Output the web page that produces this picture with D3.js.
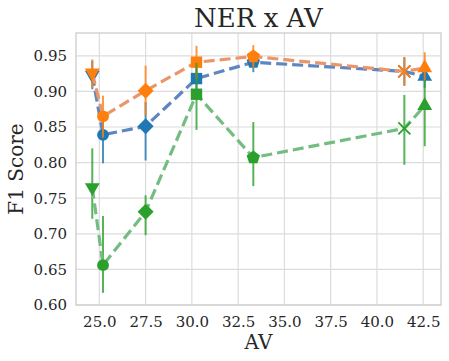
<!DOCTYPE html>
<html>
<head>
<meta charset="utf-8">
<script src="https://cdn.jsdelivr.net/npm/d3@7"></script>
<style>
  body { margin:0; background:#fff; }
  text { font-family: "DejaVu Serif", serif; fill:#262626; }
</style>
</head>
<body>
<div id="chart"></div>
<script>
// AV values (x) and marker for each point
const avValues = [24.62, 25.2, 27.5, 30.25, 33.32, 41.48, 42.58];
const markers  = ["v", "o", "D", "s", "p", "x", "^"];

// F1 per series, with error bar low / high
const blueF1  = [0.923, 0.839, 0.851, 0.918, 0.941, 0.928, 0.921];
const blueLo  = [0.903, 0.799, 0.803, 0.895, 0.927, 0.908, 0.905];
const blueHi  = [0.943, 0.870, 0.885, 0.940, 0.955, 0.948, 0.935];

const orangeF1 = [0.926, 0.865, 0.901, 0.941, 0.949, 0.928, 0.933];
const orangeLo = [0.905, 0.835, 0.866, 0.918, 0.933, 0.908, 0.913];
const orangeHi = [0.945, 0.894, 0.936, 0.964, 0.965, 0.948, 0.955];

const greenF1 = [0.765, 0.656, 0.731, 0.896, 0.807, 0.848, 0.880];
const greenLo = [0.721, 0.617, 0.698, 0.846, 0.767, 0.797, 0.823];
const greenHi = [0.820, 0.725, 0.754, 0.940, 0.857, 0.895, 0.916];

const yTicks = [0.60, 0.65, 0.70, 0.75, 0.80, 0.85, 0.90, 0.95];
const xTicks = [25.0, 27.5, 30.0, 32.5, 35.0, 37.5, 40.0, 42.5];

const series = [
  {color:"#1f77b4", line:"#5f86c0", f1:blueF1,   lo:blueLo,   hi:blueHi},
  {color:"#ff7f0e", line:"#eb9668", f1:orangeF1, lo:orangeLo, hi:orangeHi},
  {color:"#2ca02c", line:"#74bd82", f1:greenF1,  lo:greenLo,  hi:greenHi}
];

const W = 449, H = 361;
const m = {left:76, right:8, top:33, bottom:56};

const svg = d3.select("#chart").append("svg")
  .attr("width", W).attr("height", H);

const x = d3.scaleLinear().domain([23.74, 43.46]).range([m.left, W - m.right]);
const y = d3.scaleLinear().domain([0.60, 0.982]).range([H - m.bottom, m.top]);

// grid
svg.append("g").selectAll("line").data(xTicks).join("line")
  .attr("x1", d => x(d)).attr("x2", d => x(d))
  .attr("y1", m.top).attr("y2", H - m.bottom)
  .attr("stroke", "#dcdcdc").attr("stroke-width", 1.2);
svg.append("g").selectAll("line").data(yTicks).join("line")
  .attr("x1", m.left).attr("x2", W - m.right)
  .attr("y1", d => y(d)).attr("y2", d => y(d))
  .attr("stroke", "#dcdcdc").attr("stroke-width", 1.2);

// frame
svg.append("rect")
  .attr("x", m.left).attr("y", m.top)
  .attr("width", W - m.right - m.left).attr("height", H - m.bottom - m.top)
  .attr("fill", "none").attr("stroke", "#cccccc").attr("stroke-width", 1.3);

// axes
const xAxis = svg.append("g")
  .attr("transform", `translate(0,${H - m.bottom})`)
  .call(d3.axisBottom(x).tickValues(xTicks).tickFormat(d3.format(".1f")).tickSize(0).tickPadding(11));
const yAxis = svg.append("g")
  .attr("transform", `translate(${m.left},0)`)
  .call(d3.axisLeft(y).tickValues(yTicks).tickFormat(d3.format(".2f")).tickSize(0).tickPadding(9));
[xAxis, yAxis].forEach(a => {
  a.select(".domain").remove();
  a.selectAll("text").style("font-family", "DejaVu Serif").style("font-size", "15px").attr("fill", "#262626");
});

// marker shapes
function markerPath(k) {
  if (k === "p") {
    // pentagon
    const r = 7;
    return d3.line()(d3.range(5).map(i => {
      const a = -Math.PI / 2 + i * 2 * Math.PI / 5;
      return [r * Math.cos(a), r * Math.sin(a)];
    })) + "Z";
  }
  if (k === "D") {
    const r = 8;
    return `M0,${-r}L${r},0L0,${r}L${-r},0Z`;
  }
  const types = {"v": d3.symbolTriangle, "^": d3.symbolTriangle, "o": d3.symbolCircle, "s": d3.symbolSquare};
  const sizes = {"v": 95, "^": 95, "o": 110, "s": 130};
  return d3.symbol().type(types[k]).size(sizes[k])();
}

series.forEach(s => {
  const g = svg.append("g");
  // error bars
  g.selectAll("line.err").data(avValues).join("line")
    .attr("x1", d => x(d)).attr("x2", d => x(d))
    .attr("y1", (d, i) => y(s.lo[i])).attr("y2", (d, i) => y(s.hi[i]))
    .attr("stroke", s.color).attr("stroke-opacity", 0.8).attr("stroke-width", 2);
  // dashed line
  g.append("path")
    .datum(avValues)
    .attr("d", d3.line().x(d => x(d)).y((d, i) => y(s.f1[i])))
    .attr("fill", "none").attr("stroke", s.line).attr("stroke-width", 3.2)
    .attr("stroke-dasharray", "11,5");
  // markers
  avValues.forEach((d, i) => {
    const k = markers[i];
    const t = `translate(${x(d)},${y(s.f1[i])})` + (k === "v" ? " rotate(180)" : "");
    if (k === "x") {
      const r = 6;
      g.append("path")
        .attr("transform", t)
        .attr("d", `M${-r},${-r}L${r},${r}M${-r},${r}L${r},${-r}`)
        .attr("stroke", s.color).attr("stroke-width", 1.8).attr("fill", "none");
    } else {
      g.append("path")
        .attr("transform", t)
        .attr("d", markerPath(k))
        .attr("fill", s.color);
    }
  });
});

// title and labels
svg.append("text").attr("x", (m.left + W - m.right) / 2).attr("y", 27)
  .attr("text-anchor", "middle").style("font-size", "26px").text("NER x AV");
svg.append("text").attr("x", (m.left + W - m.right) / 2).attr("y", 349)
  .attr("text-anchor", "middle").style("font-size", "20px").text("AV");
svg.append("text").attr("transform", `translate(23,${(m.top + H - m.bottom) / 2}) rotate(-90)`)
  .attr("text-anchor", "middle").style("font-size", "20px").text("F1 Score");
</script>
</body>
</html>
